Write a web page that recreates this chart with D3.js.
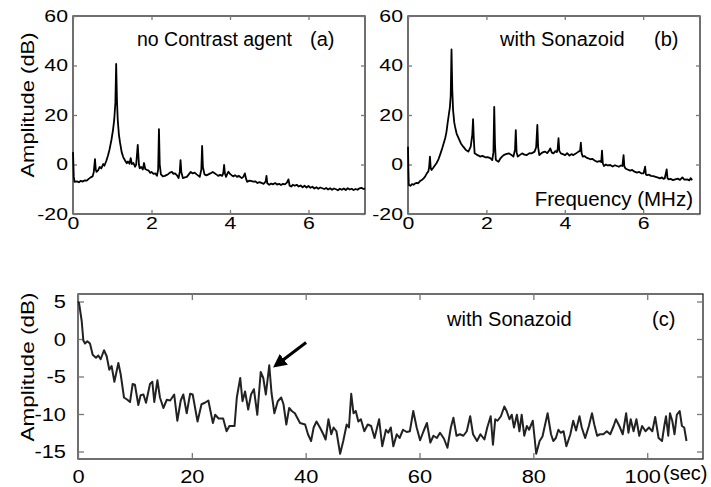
<!DOCTYPE html>
<html>
<head>
<meta charset="utf-8">
<script src="https://cdn.jsdelivr.net/npm/d3@7"></script>
<style>
  body { margin: 0; background: #fff; }
  svg { display: block; font-family: "Liberation Sans", Arial, sans-serif; }
</style>
</head>
<body>
<div id="chart"></div>
<script>
// spectrum without contrast agent, [MHz, dB]
var specA = [[0,5],[0.02,-5],[0.04,-7],[0.1,-6.8],[0.15,-7.2],[0.2,-6.6],[0.25,-6.9],[0.3,-6.4],[0.35,-6.5],[0.4,-5.8],[0.45,-5.2],[0.5,-4.8],[0.53,-3],[0.56,2.2],[0.58,-2],[0.6,-3],[0.64,-2.4],[0.68,-1],[0.72,-1.6],[0.77,0.2],[0.8,-0.5],[0.85,1.5],[0.89,3.5],[0.93,6],[0.98,10],[1.02,14],[1.05,18],[1.08,25],[1.1,40.6],[1.12,26],[1.14,18],[1.17,12],[1.2,8.7],[1.24,5],[1.28,3],[1.33,1.5],[1.37,0.5],[1.4,1.2],[1.44,0.3],[1.47,2.6],[1.5,0.2],[1.54,0.6],[1.58,-0.9],[1.61,0],[1.65,7.9],[1.68,0],[1.7,-1.5],[1.74,-1],[1.78,-2],[1.81,0.6],[1.84,-1.8],[1.89,-2.2],[1.93,-2.5],[1.97,-3.4],[2.0,-3],[2.05,-3.8],[2.1,-3.6],[2.14,-4.6],[2.17,-2],[2.19,14.3],[2.21,0],[2.24,-4],[2.29,-4.8],[2.34,-4.6],[2.39,-4.2],[2.43,-3.8],[2.47,-3.3],[2.52,-3],[2.56,-3.8],[2.6,-3.6],[2.65,-4.4],[2.69,-5.5],[2.72,-3],[2.74,1.8],[2.76,-3],[2.8,-5.5],[2.85,-5.2],[2.9,-5],[2.95,-4],[3.0,-3],[3.05,-3.6],[3.1,-3.3],[3.15,-4],[3.2,-4.6],[3.23,-5],[3.27,-2],[3.29,7.5],[3.31,-1],[3.35,-4],[3.4,-4.4],[3.45,-4],[3.5,-3.6],[3.56,-3],[3.6,-3.4],[3.65,-4],[3.7,-4.6],[3.75,-4.2],[3.8,-4.6],[3.83,-3.5],[3.85,-0.2],[3.87,-3.5],[3.9,-5],[3.93,-3.8],[3.96,-2.9],[4.0,-3.8],[4.04,-4.3],[4.09,-4.8],[4.13,-4.3],[4.18,-5],[4.22,-4.6],[4.26,-5],[4.3,-5.5],[4.34,-5],[4.38,-3.6],[4.41,-5.8],[4.44,-7],[4.5,-6.5],[4.55,-6.7],[4.6,-6.9],[4.65,-6.8],[4.7,-7.5],[4.75,-7.1],[4.8,-7.4],[4.86,-7.8],[4.91,-6.8],[4.93,-4.6],[4.95,-7.6],[5.0,-8.2],[5.05,-7.7],[5.1,-8],[5.15,-7.5],[5.2,-8.1],[5.25,-7.8],[5.3,-8.3],[5.35,-7.8],[5.4,-8.0],[5.45,-7.3],[5.49,-6],[5.52,-8.6],[5.56,-8.9],[5.6,-8.2],[5.65,-8.6],[5.7,-8.2],[5.75,-8.9],[5.8,-8.5],[5.85,-9.2],[5.9,-8.6],[5.95,-9.3],[6.0,-8.7],[6.05,-9.4],[6.1,-9.0],[6.15,-9.7],[6.2,-9.2],[6.25,-9.8],[6.3,-9.3],[6.35,-9.6],[6.4,-9.9],[6.45,-9.5],[6.5,-10.1],[6.55,-9.6],[6.6,-10.2],[6.65,-9.7],[6.7,-10],[6.75,-10.4],[6.8,-9.8],[6.85,-10.2],[6.9,-9.7],[6.95,-10.3],[7.0,-9.6],[7.05,-10.1],[7.1,-9.8],[7.15,-10.3],[7.2,-9.9],[7.25,-10.2],[7.3,-9.6],[7.35,-9.4],[7.4,-9.9],[7.44,-9.7]];

// spectrum with Sonazoid, [MHz, dB]
var specB = [[0,7.2],[0.01,-2],[0.02,-8.3],[0.06,-8.6],[0.1,-7.9],[0.14,-8.2],[0.18,-7.7],[0.22,-7.4],[0.26,-7.6],[0.3,-6.8],[0.35,-6.3],[0.4,-5.6],[0.44,-4.8],[0.48,-3.6],[0.52,-2.8],[0.54,-1],[0.56,3.2],[0.58,-1.5],[0.6,-2.2],[0.64,-1.4],[0.68,-0.5],[0.73,0.6],[0.78,2.2],[0.82,4],[0.86,5.9],[0.9,8],[0.95,10.7],[0.98,13],[1.01,16.6],[1.04,20],[1.07,23.3],[1.09,28],[1.11,46.5],[1.13,30],[1.15,22],[1.18,17],[1.2,15.3],[1.24,12.5],[1.29,10.7],[1.35,8.5],[1.41,7.2],[1.47,6],[1.54,5.2],[1.6,7.2],[1.64,12],[1.66,18.3],[1.68,10],[1.7,4.5],[1.75,4.0],[1.8,3.6],[1.84,3.2],[1.9,3.5],[1.97,2.9],[2.03,3.0],[2.1,2.6],[2.15,1.8],[2.18,5],[2.2,23.3],[2.22,8],[2.24,1.9],[2.27,1.5],[2.31,1.1],[2.36,2.5],[2.4,3.2],[2.44,3.8],[2.5,4.2],[2.57,4.5],[2.62,4],[2.66,3.6],[2.69,3.2],[2.73,6],[2.75,13.9],[2.77,5],[2.8,3.2],[2.85,3.8],[2.91,4.5],[2.97,4.0],[3.03,3.8],[3.1,4.6],[3.16,4.5],[3.23,5.2],[3.27,7],[3.3,16],[3.32,7],[3.35,3.8],[3.4,4.5],[3.45,5.0],[3.5,5.2],[3.55,4.6],[3.6,5.6],[3.63,6.5],[3.67,4.8],[3.71,4.5],[3.76,5.4],[3.8,5.0],[3.82,6.5],[3.84,10.6],[3.86,5.5],[3.9,4.5],[3.95,4.2],[4.01,3.8],[4.06,4.6],[4.12,3.6],[4.17,4.2],[4.22,3.8],[4.28,4.4],[4.35,5.2],[4.39,5.5],[4.41,8.8],[4.43,4.5],[4.46,3.2],[4.5,3.4],[4.55,2.8],[4.6,2.5],[4.65,2.1],[4.7,2.3],[4.76,1.6],[4.82,1.1],[4.88,1.4],[4.93,1.0],[4.95,5.6],[4.97,0.5],[5.0,-0.6],[5.05,0.0],[5.1,-0.4],[5.16,-0.2],[5.22,-0.8],[5.28,-0.3],[5.33,-0.6],[5.38,-0.9],[5.43,-0.4],[5.47,-0.6],[5.5,3.8],[5.52,-0.8],[5.55,-1.6],[5.6,-2.0],[5.67,-2.5],[5.72,-2.2],[5.78,-2.9],[5.84,-3.3],[5.9,-3.0],[5.96,-3.6],[6.01,-3.6],[6.05,-0.9],[6.07,-4],[6.1,-4.3],[6.15,-4.1],[6.2,-4.6],[6.26,-4.7],[6.32,-5.0],[6.38,-5.3],[6.43,-5.6],[6.48,-5.2],[6.52,-5.8],[6.55,-5.6],[6.6,-2],[6.62,-5.5],[6.65,-6],[6.7,-5.8],[6.76,-6.3],[6.82,-6],[6.88,-5.7],[6.94,-6.2],[7.0,-5.2],[7.05,-6.1],[7.12,-6.0],[7.18,-6.4],[7.21,-5.5],[7.25,-6.3]];

// time course with Sonazoid, [sec, dB]
var timeC = [[0,5.0],[0.18,4.8],[0.65,2.4],[0.94,-0.2],[1.23,-0.6],[1.64,-0.3],[2.1,-0.6],[2.58,-2.1],[3.16,-2.5],[3.57,-2.2],[3.98,-2.7],[4.57,-1.5],[5.04,-2.3],[5.5,-4.1],[5.9,-3.6],[6.39,-5.7],[7.09,-3.2],[7.5,-4.7],[8.08,-7.8],[8.67,-8.1],[9.14,-8.4],[9.6,-6.0],[10.0,-6.1],[10.6,-8.8],[11.0,-7.5],[11.5,-7.4],[11.95,-8.5],[12.65,-6.0],[13.06,-5.7],[13.4,-8.4],[13.95,-5.5],[14.4,-7.8],[15.0,-9.2],[15.6,-8.1],[16.2,-8.2],[16.9,-7.4],[17.45,-10.9],[18.05,-8.2],[18.5,-7.4],[19.1,-9.9],[19.7,-7.3],[20.15,-7.4],[21.0,-11.0],[21.7,-8.7],[22.3,-8.5],[22.9,-8.2],[23.7,-11.2],[24.1,-10.1],[24.7,-10.6],[25.5,-10.6],[26.1,-12.3],[26.6,-11.6],[27.5,-11.6],[27.9,-7.8],[28.5,-5.2],[28.9,-8.3],[29.35,-7.0],[29.9,-9.4],[30.4,-7.4],[30.9,-6.7],[31.5,-10.1],[32.1,-4.4],[32.55,-5.2],[33.0,-7.4],[33.6,-3.5],[34.0,-7.2],[34.5,-9.9],[35.1,-8.3],[35.7,-7.8],[36.1,-8.7],[36.6,-11.4],[37.1,-9.2],[37.55,-9.6],[38.1,-9.9],[39.0,-11.2],[39.9,-11.4],[40.4,-12.7],[40.95,-13.6],[41.4,-11.8],[41.9,-11.0],[42.5,-11.8],[43.1,-12.7],[43.5,-13.4],[44.0,-10.7],[44.5,-12.7],[44.9,-11.8],[45.4,-12.3],[46.05,-15.3],[46.6,-13.6],[47.2,-11.4],[47.6,-11.8],[48.0,-7.3],[48.4,-9.9],[48.8,-9.6],[49.25,-11.0],[49.7,-10.7],[50.3,-12.3],[50.9,-11.4],[51.5,-11.6],[52.1,-13.2],[52.9,-10.7],[53.45,-14.3],[54.1,-12.1],[54.5,-12.5],[54.95,-11.8],[55.4,-14.3],[56.0,-12.7],[56.5,-13.2],[57.1,-12.1],[57.75,-12.4],[58.3,-12.3],[58.9,-9.6],[59.5,-11.8],[60.1,-13.5],[60.7,-12.3],[61.3,-11.2],[61.9,-13.8],[62.45,-12.9],[63.05,-13.2],[63.6,-12.5],[64.3,-13.3],[64.9,-14.5],[65.5,-11.8],[65.95,-10.5],[66.5,-12.9],[67.1,-12.7],[67.7,-12.9],[68.3,-12.3],[68.9,-10.3],[69.4,-12.7],[70.1,-13.6],[70.7,-12.7],[71.4,-13.4],[71.9,-11.8],[72.5,-10.3],[72.9,-14.1],[73.3,-10.7],[73.7,-10.9],[74.3,-10.3],[74.9,-9.0],[75.3,-9.6],[75.8,-10.7],[76.2,-10.1],[76.6,-11.8],[77.1,-10.1],[77.55,-12.3],[77.95,-10.1],[78.4,-12.9],[78.85,-11.6],[79.25,-12.1],[79.9,-10.9],[80.5,-15.3],[81.1,-13.6],[81.6,-13.0],[82.5,-9.9],[83.1,-12.7],[83.5,-13.6],[83.95,-13.2],[84.4,-12.1],[84.8,-12.5],[85.3,-12.3],[85.8,-14.3],[86.5,-12.7],[87.0,-10.9],[87.5,-12.2],[88.1,-10.3],[88.5,-11.8],[89.1,-13.2],[89.75,-11.6],[90.3,-9.9],[90.7,-11.4],[91.2,-12.9],[91.7,-12.7],[92.3,-12.7],[92.9,-12.3],[93.5,-12.7],[94.1,-11.6],[94.5,-10.7],[95.1,-11.6],[95.7,-12.7],[96.3,-9.9],[96.7,-12.5],[97.1,-10.7],[97.6,-12.3],[98.1,-10.7],[98.6,-12.9],[99.1,-11.6],[99.7,-12.3],[100.3,-11.8],[100.9,-12.3],[101.4,-10.4],[102.0,-13.2],[102.6,-13.6],[103.0,-11.6],[103.3,-10.3],[103.7,-12.9],[104.0,-9.9],[104.4,-10.9],[104.8,-12.7],[105.2,-10.1],[105.7,-9.6],[106.1,-11.6],[106.5,-11.8],[106.9,-13.6]];

var freqTicks = [0, 2, 4, 6];
var specTicks = [-20, 0, 20, 40, 60];
var timeTicks = [0, 20, 40, 60, 80, 100];
var ampTicks = [-15, -10, -5, 0, 5];

// arrow pointing at the peak near 33 s: [tail, end of shaft] in data units
var arrowPts = [[40.07, -0.47], [35.78, -2.93]];

var W = 711, H = 487;
var svg = d3.select("#chart").append("svg")
    .attr("width", W)
    .attr("height", H);

svg.append("defs").append("marker")
    .attr("id", "head")
    .attr("viewBox", "0 0 10 10")
    .attr("refX", 2).attr("refY", 5)
    .attr("markerWidth", 4.5).attr("markerHeight", 4.5)
    .attr("markerUnits", "strokeWidth")
    .attr("orient", "auto")
  .append("path")
    .attr("d", "M0,0 L10,5 L0,10 Z")
    .attr("fill", "#000");

var fmt = function(d) { return String(d); }; // plain hyphen for negatives

function panel(opt) {
  var g = svg.append("g").attr("transform", "translate(" + opt.left + "," + opt.top + ")");
  var x = d3.scaleLinear().domain(opt.xDomain).range([0, opt.width]);
  var y = d3.scaleLinear().domain(opt.yDomain).range([opt.height, 0]);
  var tk = opt.tick, sx = opt.stretch;

  g.append("rect")
    .attr("width", opt.width).attr("height", opt.height)
    .attr("fill", "none").attr("stroke", "#222").attr("stroke-width", 1.3);

  var xb = g.append("g").attr("transform", "translate(0," + opt.height + ")")
    .call(d3.axisBottom(x).tickValues(opt.xTicks).tickSize(-tk).tickPadding(opt.xPad).tickFormat(fmt));
  var xt = g.append("g")
    .call(d3.axisTop(x).tickValues(opt.xTicks).tickSize(-tk).tickFormat(""));
  var yl = g.append("g")
    .call(d3.axisLeft(y).tickValues(opt.yTicks).tickSize(-tk).tickPadding(opt.yPad).tickFormat(fmt));
  var yr = g.append("g").attr("transform", "translate(" + opt.width + ",0)")
    .call(d3.axisRight(y).tickValues(opt.yTicks).tickSize(-tk).tickFormat(""));

  [xb, xt, yl, yr].forEach(function(a) {
    a.select(".domain").remove();
    a.selectAll(".tick line").attr("stroke", "#777").attr("stroke-width", 1.3);
    a.selectAll("text")
      .attr("fill", "#000")
      .attr("transform", "scale(" + sx + ",1)")
      .style("font-family", "'Liberation Sans', Arial, sans-serif")
      .style("font-size", opt.fontSize + "px");
  });
  // the wide glyphs are drawn with a horizontal stretch, keep anchors in place
  yl.selectAll("text").attr("x", -opt.yPad / sx);

  var line = d3.line()
    .x(function(d) { return x(d[0]); })
    .y(function(d) { return y(d[1]); });

  g.append("path")
    .datum(opt.data)
    .attr("fill", "none")
    .attr("stroke", opt.color)
    .attr("stroke-width", opt.lineWidth)
    .attr("stroke-linejoin", "round")
    .attr("d", line);

  return { g: g, x: x, y: y, xb: xb };
}

function ylabel(cx, cy, len) {
  svg.append("text")
    .attr("transform", "translate(" + cx + "," + cy + ") rotate(-90)")
    .attr("text-anchor", "middle")
    .attr("dy", "0.35em")
    .attr("textLength", len)
    .attr("lengthAdjust", "spacingAndGlyphs")
    .style("font-size", "18.5px")
    .text("Amplitude (dB)");
}

function label(x, y, txt, size, anchor) {
  svg.append("text")
    .attr("x", x).attr("y", y)
    .attr("text-anchor", anchor || "start")
    .style("font-size", size + "px")
    .text(txt);
}

// (a)
var pa = panel({
  left: 73, top: 16, width: 292, height: 198,
  xDomain: [0, 7.44], yDomain: [-20, 60],
  xTicks: freqTicks, yTicks: specTicks,
  tick: 4, xPad: 3, yPad: 5, fontSize: 17, stretch: 1.25,
  data: specA, color: "#000", lineWidth: 1.8
});
ylabel(28, 105, 145);
label(137, 46, "no Contrast agent", 19.5);
label(310, 46, "(a)", 20);

// (b)
var pb = panel({
  left: 408, top: 16, width: 292, height: 198,
  xDomain: [0, 7.45], yDomain: [-20, 60],
  xTicks: freqTicks, yTicks: specTicks,
  tick: 4, xPad: 3, yPad: 5, fontSize: 17, stretch: 1.25,
  data: specB, color: "#000", lineWidth: 1.8
});
label(500, 46, "with Sonazoid", 20);
label(654, 46, "(b)", 20);
label(693, 206, "Frequency (MHz)", 20.5, "end");

// (c)
var pc = panel({
  left: 78, top: 294, width: 625, height: 165,
  xDomain: [0, 109.8], yDomain: [-16, 6],
  xTicks: timeTicks, yTicks: ampTicks,
  tick: 6, xPad: 11, yPad: 12, fontSize: 19, stretch: 1.15,
  data: timeC, color: "#222", lineWidth: 2
});
// the "100" label sits a little left to leave room for the unit
pc.xb.selectAll(".tick text").filter(function(d) { return d === 100; }).attr("x", -5 / 1.15);
ylabel(28, 367, 149);
label(447, 326, "with Sonazoid", 20);
label(652, 326, "(c)", 20);
label(663, 480, "(sec)", 20);

pc.g.append("line")
  .attr("x1", pc.x(arrowPts[0][0])).attr("y1", pc.y(arrowPts[0][1]))
  .attr("x2", pc.x(arrowPts[1][0])).attr("y2", pc.y(arrowPts[1][1]))
  .attr("stroke", "#000")
  .attr("stroke-width", 3)
  .attr("marker-end", "url(#head)");
</script>
</body>
</html>
